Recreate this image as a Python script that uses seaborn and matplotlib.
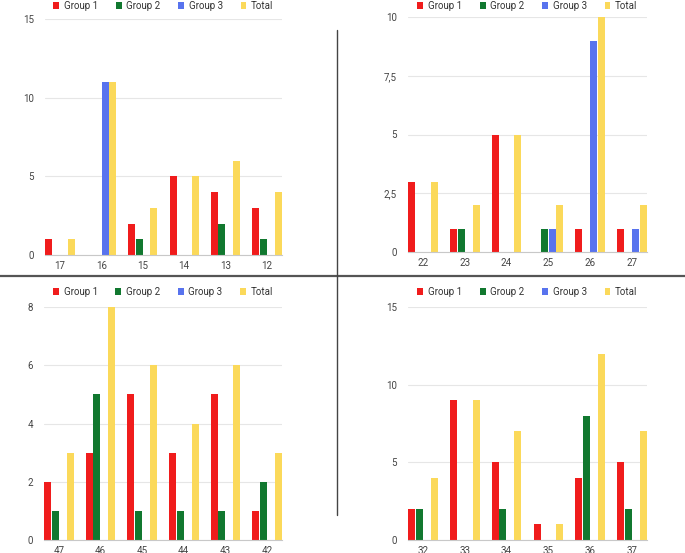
import matplotlib
matplotlib.use("Agg")
import matplotlib.pyplot as plt
from matplotlib.lines import Line2D
import seaborn as sns
import pandas as pd

sns.set_style("white")
plt.rcParams['font.family'] = ['Roboto', 'DejaVu Sans']

series = ['Group 1', 'Group 2', 'Group 3', 'Total']
palette = ['#f01c1c', '#11782f', '#5873ee', '#fbd95a']

# panel 1 (top left)
cats_a = ['17', '16', '15', '14', '13', '12']
g1_a = [1, 0, 2, 5, 4, 3]
g2_a = [0, 0, 1, 0, 2, 1]
g3_a = [0, 11, 0, 0, 0, 0]
tot_a = [1, 11, 3, 5, 6, 4]
ticks_a = [0, 5, 10, 15]
labels_a = ['0', '5', '10', '15']

# panel 2 (top right)
cats_b = ['22', '23', '24', '25', '26', '27']
g1_b = [3, 1, 5, 0, 1, 1]
g2_b = [0, 1, 0, 1, 0, 0]
g3_b = [0, 0, 0, 1, 9, 1]
tot_b = [3, 2, 5, 2, 10, 2]
ticks_b = [0, 2.5, 5, 7.5, 10]
labels_b = ['0', '2,5', '5', '7,5', '10']

# panel 3 (bottom left)
cats_c = ['47', '46', '45', '44', '43', '42']
g1_c = [2, 3, 5, 3, 5, 1]
g2_c = [1, 5, 1, 1, 1, 2]
g3_c = [0, 0, 0, 0, 0, 0]
tot_c = [3, 8, 6, 4, 6, 3]
ticks_c = [0, 2, 4, 6, 8]
labels_c = ['0', '2', '4', '6', '8']

# panel 4 (bottom right)
cats_d = ['32', '33', '34', '35', '36', '37']
g1_d = [2, 9, 5, 1, 4, 5]
g2_d = [2, 0, 2, 0, 8, 2]
g3_d = [0, 0, 0, 0, 0, 0]
tot_d = [4, 9, 7, 1, 12, 7]
ticks_d = [0, 5, 10, 15]
labels_d = ['0', '5', '10', '15']

W, H = 685, 553
fig = plt.figure(figsize=(W / 100, H / 100), dpi=100)


def panel(cats, g1, g2, g3, tot, ticks, labels, left, right, top, bottom, leg_y):
    ax = fig.add_axes([left / W, 1 - bottom / H, (right - left) / W, (bottom - top) / H])
    df = pd.DataFrame({'cat': cats, 'Group 1': g1, 'Group 2': g2,
                       'Group 3': g3, 'Total': tot})
    long = df.melt(id_vars='cat', var_name='series', value_name='value')
    sns.barplot(data=long, x='cat', y='value', hue='series', hue_order=series,
                palette=palette, width=0.72, gap=0.06, saturation=1,
                edgecolor='none', ax=ax)
    ax.set_xlim(-0.36, len(cats) - 1 + 0.36)
    ax.set_ylim(0, ticks[-1])
    ax.set_yticks(ticks)
    ax.set_yticklabels(labels)
    ax.grid(axis='y', color='#e6e6e6', linewidth=0.8)
    ax.set_axisbelow(True)
    for s in ['top', 'right', 'left']:
        ax.spines[s].set_visible(False)
    ax.spines['bottom'].set_color('#c8c8c8')
    ax.spines['bottom'].set_linewidth(0.8)
    ax.tick_params(axis='both', length=0, labelsize=7, labelcolor='#444444')
    ax.tick_params(axis='y', pad=8)
    ax.tick_params(axis='x', pad=4)
    ax.set_xlabel('')
    ax.set_ylabel('')
    sns.move_legend(ax, 'center', bbox_to_anchor=((left + right) / 2 / W, 1 - leg_y / H),
                    bbox_transform=fig.transFigure, ncol=4, frameon=False, title=None,
                    fontsize=7, handlelength=0.6, handleheight=0.6, handletextpad=0.5,
                    columnspacing=1.8, borderpad=0)
    for t in ax.get_legend().get_texts():
        t.set_color('#333333')
    return ax


panel(cats_a, g1_a, g2_a, g3_a, tot_a, ticks_a, labels_a, 45, 282, 19, 255, 6)
panel(cats_b, g1_b, g2_b, g3_b, tot_b, ticks_b, labels_b, 408, 647, 17, 252, 6)
panel(cats_c, g1_c, g2_c, g3_c, tot_c, ticks_c, labels_c, 44, 282, 307, 540, 292)
panel(cats_d, g1_d, g2_d, g3_d, tot_d, ticks_d, labels_d, 408, 647, 307, 540, 292)

# dividing lines of the screenshot grid
fig.add_artist(Line2D([0, 1], [1 - 276 / H, 1 - 276 / H], transform=fig.transFigure,
                      color='#555555', linewidth=1.6))
fig.add_artist(Line2D([337 / W, 337 / W], [1 - 30 / H, 1 - 515 / H], transform=fig.transFigure,
                      color='#444444', linewidth=1.0))

fig.savefig('out.png', dpi=100, facecolor='white')
